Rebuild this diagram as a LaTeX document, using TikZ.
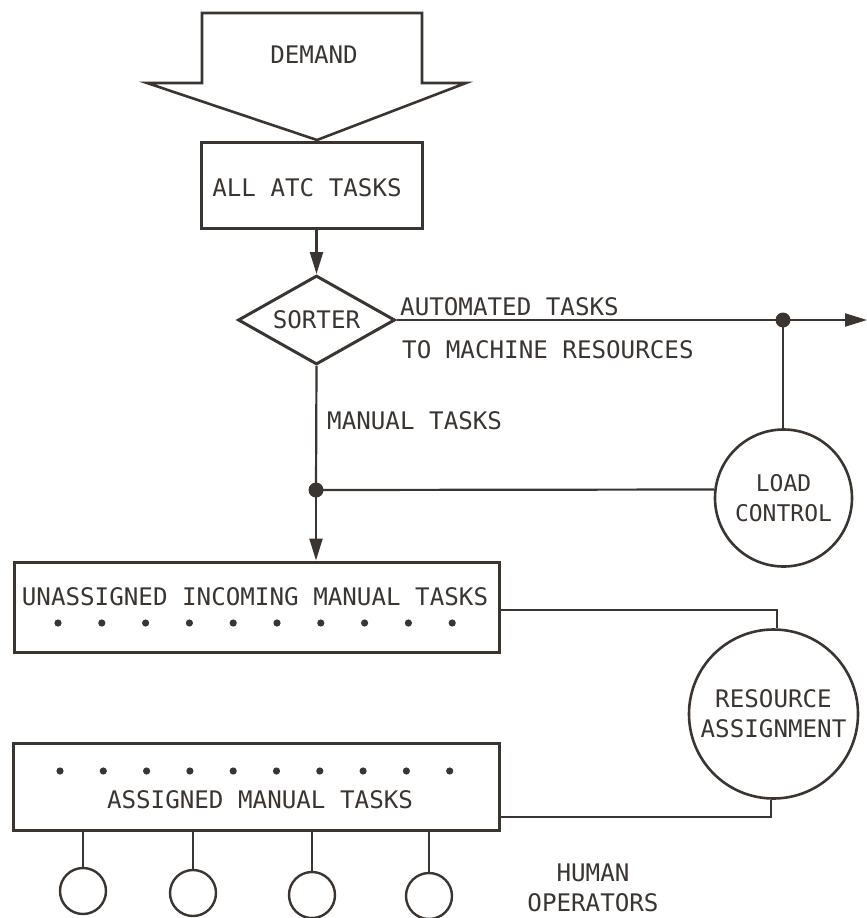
\documentclass[tikz,border=0pt]{standalone}
\usepackage{fontspec}
\newfontfamily\typerfont{DejaVu Sans Mono}
\usetikzlibrary{shapes.geometric,arrows.meta}
\definecolor{ink}{HTML}{3B3531}

\begin{document}
\begin{tikzpicture}[x=1pt,y=-1pt,
  every node/.style={font=\typerfont\fontsize{24.2}{30}\selectfont, text=ink},
  box/.style={draw=ink, line width=3pt, rectangle, inner sep=0pt},
  ctrl/.style={draw=ink, line width=2.6pt, circle, inner sep=0pt, align=center},
  oper/.style={draw=ink, line width=2.4pt, circle, inner sep=0pt, minimum size=46pt},
  wire/.style={draw=ink, line width=2.2pt},
  flow/.style={wire, -{Triangle[length=22pt,width=13pt]}},
  label/.style={inner sep=0pt},
  junction/.style={fill=ink, circle, inner sep=0pt, minimum size=15pt},
  slot/.style={fill=ink}
]
\useasboundingbox (0,0) rectangle (867,918);

% demand arrow
\draw[ink, line width=2.6pt, line join=miter]
  (202,13) -- (422,13) -- (422,83) -- (466,83) -- (317,140) -- (147,83) -- (202,83) -- cycle;
\node[label] (demand) at (314,55) {DEMAND};

% all tasks
\node[box, minimum width=221pt, minimum height=86pt] (all) at (311.5,185) {};
\node[label] (alltext) at (307,188) {ALL ATC TASKS};

% sorter
\node[draw=ink, line width=3pt, diamond, aspect=1.76, inner sep=0pt,
      minimum width=157pt, minimum height=89pt] (sorter) at (316.5,320) {SORTER};

\draw[flow] (all.south -| sorter.north) -- (sorter.north);

% automated branch
\coordinate (j1) at (783,320);
\coordinate (out) at (867,320);
\draw[wire] (sorter.east) -- (j1);
\draw[flow] (j1) -- (out);
\node[junction] (dot1) at (j1) {};
\node[label, anchor=west] (auto1) at (400,307) {AUTOMATED TASKS};
\node[label, anchor=west] (auto2) at (402,350) {TO MACHINE RESOURCES};

% load control
\node[ctrl, minimum size=137pt, font=\typerfont\fontsize{23}{30}\selectfont] (load) at (783.5,498) {LOAD\\CONTROL};
\draw[wire] (j1) -- (j1 |- load.north);

% manual branch
\node[label, anchor=west] (manual) at (327,421) {MANUAL TASKS};
\coordinate (j2) at (316,490);
\node[box, minimum width=485pt, minimum height=90pt] (unassigned) at (256.5,607) {};
\node[label] (untext) at (255,597) {UNASSIGNED INCOMING MANUAL TASKS};
\draw[wire] (sorter.south) -- (j2);
\draw[wire] (j2) -- (load.173);
\draw[flow] (j2) -- (j2 |- unassigned.north);
\node[junction] (dot2) at (j2) {};

\foreach \i in {0,...,9}
  \fill[slot] (58+43.8*\i,623) circle (3.6pt);

% resource assignment
\node[ctrl, minimum size=169pt] (resource) at (773.5,714) {RESOURCE\\ASSIGNMENT};
\coordinate (r1) at (777,610);
\coordinate (r2) at (771,817);
\draw[wire] (r1 -| unassigned.east) -- (r1) -- (r1 |- resource.north);

\node[box, minimum width=486pt, minimum height=87pt] (assigned) at (256,786.5) {};
\node[label] (astext) at (260,800) {ASSIGNED MANUAL TASKS};
\draw[wire] (r2 |- resource.south) -- (r2) -- (r2 -| assigned.east);

\foreach \i in {0,...,9}
  \fill[slot] (60+43.3*\i,771) circle (3.6pt);

% human operators
\node[oper] (op1) at (83,891) {};
\node[oper] (op2) at (193,893) {};
\node[oper] (op3) at (312,895) {};
\node[oper] (op4) at (429,896) {};
\foreach \o in {op1,op2,op3,op4}
  \draw[wire] (\o.north |- assigned.south) -- (\o.north);

\node[label, align=center] (humans) at (593,888) {HUMAN\\OPERATORS};
\end{tikzpicture}
\end{document}
